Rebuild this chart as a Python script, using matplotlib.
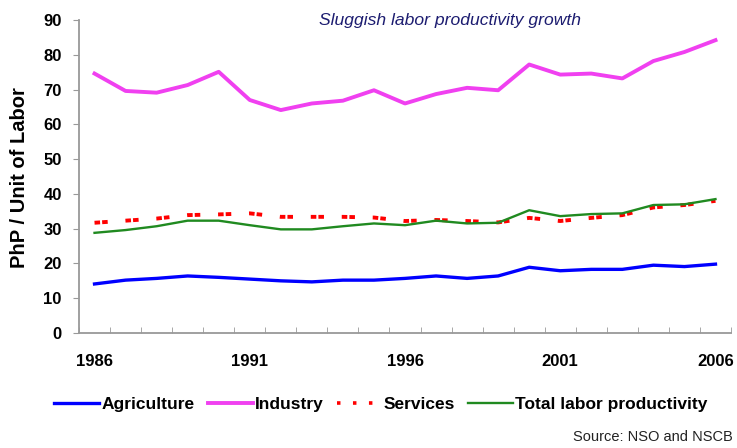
import matplotlib
matplotlib.use("Agg")
import matplotlib.pyplot as plt
from matplotlib.ticker import MultipleLocator, FixedLocator
from matplotlib.lines import Line2D

plt.rcParams['font.family'] = ['Liberation Sans', 'DejaVu Sans']
plt.rcParams['lines.scale_dashes'] = False

years = list(range(1986, 2007))
agriculture = [14.1, 15.2, 15.7, 16.4, 16.0, 15.5, 15.0, 14.7, 15.2, 15.2, 15.7,
               16.4, 15.7, 16.4, 18.9, 17.9, 18.3, 18.3, 19.5, 19.1, 19.8]
industry = [74.6, 69.6, 69.1, 71.3, 75.1, 67.0, 64.1, 66.0, 66.8, 69.8, 66.0,
            68.7, 70.5, 69.8, 77.2, 74.3, 74.6, 73.2, 78.2, 80.8, 84.2]
services = [31.7, 32.3, 32.9, 33.9, 34.1, 34.4, 33.4, 33.4, 33.4, 33.2, 32.2,
            32.5, 32.2, 31.8, 33.1, 32.2, 33.1, 33.9, 36.1, 36.8, 38.0]
total = [28.8, 29.6, 30.7, 32.3, 32.3, 31.0, 29.8, 29.8, 30.7, 31.5, 31.0,
         32.3, 31.5, 31.7, 35.3, 33.6, 34.2, 34.4, 36.8, 37.0, 38.5]
tick_years = [1986, 1991, 1996, 2001, 2006]

c_agri, c_ind, c_serv, c_tot = '#0000ff', '#f040f0', '#ff0000', '#208a20'

fig = plt.figure(figsize=(7.37, 4.48), dpi=100)
ax = fig.add_axes([79/737, 1 - 333/448, (731 - 79)/737, (333 - 20)/448])

ax.plot(years, agriculture, color=c_agri, lw=2.4)
ax.plot(years, industry, color=c_ind, lw=2.8)
ax.plot(years, services, color=c_serv, lw=2.8, dashes=(4, 1.5, 4, 12.8), dash_capstyle='butt')
ax.plot(years, total, color=c_tot, lw=1.7)

ax.set_xlim(1985.5, 2006.5)
ax.set_ylim(0, 90)
ax.yaxis.set_major_locator(MultipleLocator(10))
ax.set_xticks(tick_years)
ax.set_xticklabels([str(y) for y in tick_years])
ax.xaxis.set_minor_locator(FixedLocator([y - 0.5 for y in years] + [2006.5]))
ax.tick_params(axis='x', which='major', length=0, pad=15)
ax.tick_params(axis='x', which='minor', length=4, color='#999999', direction='in')
ax.tick_params(axis='y', length=4.5, color='#999999', direction='out', pad=8)
for lbl in ax.get_xticklabels() + ax.get_yticklabels():
    lbl.set_fontweight('bold')
    lbl.set_fontsize(12)

for s in ['top', 'right']:
    ax.spines[s].set_visible(False)
for s in ['left', 'bottom']:
    ax.spines[s].set_color('#999999')
    ax.spines[s].set_linewidth(1.3)

fig.text(20/737, 1 - 178/448, 'PhP / Unit of Labor', rotation=90, ha='center', va='center',
         fontsize=14.5, fontweight='bold')

fig.text(450/737, 1 - 21/448, 'Sluggish labor productivity growth', ha='center', va='center',
         fontsize=12.6, style='italic', color='#1c1c70')

handles = [
    Line2D([], [], color=c_agri, lw=2.4),
    Line2D([], [], color=c_ind, lw=2.8),
    Line2D([], [], color=c_serv, lw=2.6, dashes=(2.5, 9), dash_capstyle='butt'),
    Line2D([], [], color=c_tot, lw=1.7),
]
labels = ['Agriculture', 'Industry', 'Services', 'Total labor productivity']
fig.legend(handles, labels, loc='center', bbox_to_anchor=(381/737, 1 - 404/448), ncol=4,
           frameon=False, handlelength=2.6, handletextpad=0.12, columnspacing=0.75,
           prop={'weight': 'bold', 'size': 12.5})

fig.text(733/737, 1 - 437/448, 'Source: NSO and NSCB', ha='right', va='center',
         fontsize=10.5, color='#222222')

fig.savefig('out.png', dpi=100)
